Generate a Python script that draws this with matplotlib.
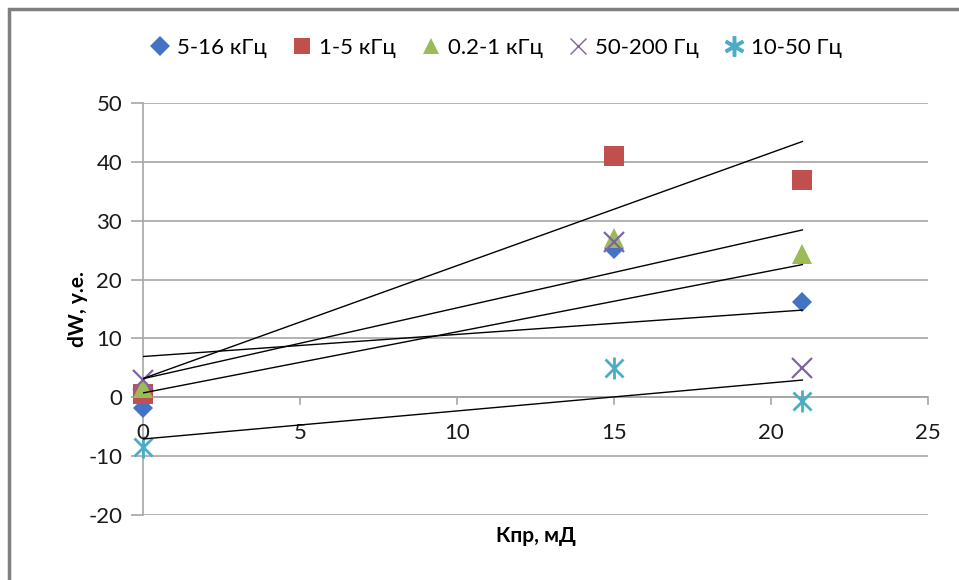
import numpy as np
import matplotlib.pyplot as plt
from matplotlib.lines import Line2D

plt.rcParams['font.family'] = ['Lato', 'DejaVu Sans']
plt.rcParams['axes.unicode_minus'] = False

# x values (Кпр, мД)
kpr = [0, 15, 21]

# dW per frequency band
series_names = ['5-16 кГц', '1-5 кГц', '0.2-1 кГц', '50-200 Гц', '10-50 Гц']
dw_5_16k = [-1.8, 25.2, 16.2]
dw_1_5k = [0.6, 41.0, 37.0]
dw_02_1k = [1.5, 27.0, 24.3]
dw_50_200 = [3.0, 26.3, 5.0]
dw_10_50 = [-8.5, 5.0, -0.6]

x_ticks = [0, 5, 10, 15, 20, 25]
y_ticks = [-20, -10, 0, 10, 20, 30, 40, 50]

all_series = [dw_5_16k, dw_1_5k, dw_02_1k, dw_50_200, dw_10_50]
colors = ['#4472C4', '#C0504D', '#9BBB59', '#8064A2', '#4BACC6']
markers = ['D', 's', '^', 'x', '*']
sizes = [10, 14, 14, 14, 18]

fig = plt.figure(figsize=(9.59, 5.8), dpi=100)
ax = fig.add_axes([143 / 959, 1 - 515 / 580, 785 / 959, 412 / 580])

xs = np.array(kpr, dtype=float)
for ys in all_series:
    k, b = np.polyfit(xs, ys, 1)
    ax.plot([xs.min(), xs.max()], [k * xs.min() + b, k * xs.max() + b],
            color='black', lw=1.0, zorder=4)

for ys, c, m, s in zip(all_series, colors, markers, sizes):
    if m == 'x':
        ax.plot(kpr, ys, ls='none', marker='x', color=c, ms=s, mew=1.6,
                zorder=3, clip_on=False)
    elif m == '*':
        ax.plot(kpr, ys, ls='none', marker='x', color=c, ms=s - 5, mew=2,
                zorder=3, clip_on=False)
        ax.plot(kpr, ys, ls='none', marker='|', color=c, ms=s - 2, mew=2,
                zorder=3, clip_on=False)
    else:
        ax.plot(kpr, ys, ls='none', marker=m, color=c, ms=s, mew=0,
                zorder=3, clip_on=False)

ax.set_xlim(0, 25)
ax.set_ylim(-20, 50)
ax.set_xticks(x_ticks)
ax.set_yticks(y_ticks)
ax.yaxis.grid(True, color='#a6a6a6', lw=1.2)
ax.set_axisbelow(True)

for side in ['top', 'right', 'bottom']:
    ax.spines[side].set_visible(False)
ax.spines['left'].set_color('#a6a6a6')
ax.spines['left'].set_linewidth(1.2)

# x axis crosses at y = 0
ax.axhline(0, color='#a6a6a6', lw=1.2, zorder=1)
ax.tick_params(axis='x', length=0, labelsize=15, pad=0)
for t in x_ticks:
    ax.plot([t, t], [0, -1.2], color='#a6a6a6', lw=1.2, zorder=1, clip_on=False)
ax.tick_params(axis='y', length=9, color='#a6a6a6', width=1.2, labelsize=16,
               pad=6, labelcolor='#1a1a1a')

# x tick labels just under the zero line
ax.set_xticklabels([])
for t in x_ticks:
    ax.text(t, -6.0, str(t), ha='center', va='center', fontsize=16,
            color='#1a1a1a')

ax.set_xlabel('Кпр, мД', fontsize=15, fontweight='bold', labelpad=8)
ax.set_ylabel('dW, у.е.', fontsize=15, fontweight='bold', labelpad=0)

handles = []
for c, m in zip(colors, markers):
    if m == 'x':
        h = Line2D([], [], ls='none', marker='x', color=c, ms=12, mew=1.0)
    elif m == '*':
        h = Line2D([], [], ls='none', marker='$\u2217$', color=c, ms=14)
    else:
        h = Line2D([], [], ls='none', marker=m, color=c, ms=12 if m != 'D' else 10, mew=0)
    handles.append(h)
fig.legend(handles, series_names, loc='center', bbox_to_anchor=(494 / 959, 1 - 48 / 580),
           ncol=5, frameon=False, fontsize=16, handletextpad=0.1,
           columnspacing=0.95, handlelength=1.3)

border = plt.Rectangle((9 / 959, -0.05), 1.1, 1 - 9 / 580 + 0.05,
                       transform=fig.transFigure, fill=False,
                       edgecolor='#7f7f7f', lw=2.5)
fig.patches.append(border)

fig.savefig('out.png', dpi=100)
